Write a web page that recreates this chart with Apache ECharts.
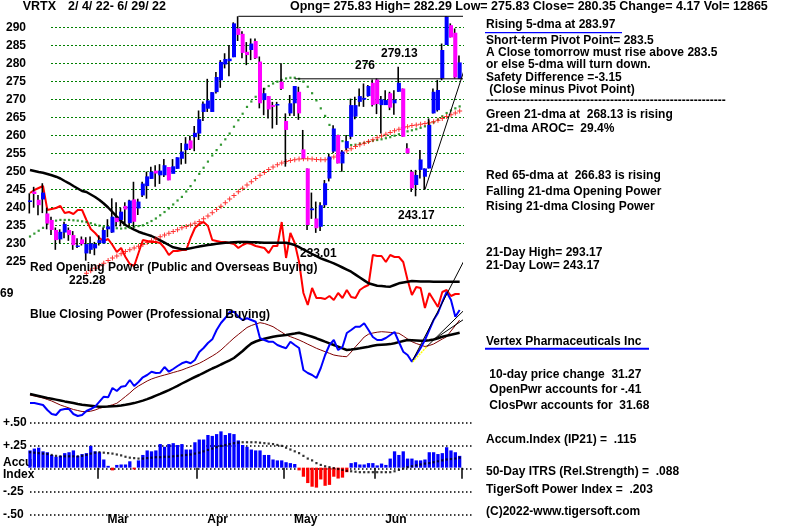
<!DOCTYPE html>
<html><head><meta charset="utf-8">
<script src="https://cdn.jsdelivr.net/npm/echarts@6/dist/echarts.min.js"></script>
<style>html,body{margin:0;padding:0;background:#fff}#c{width:800px;height:526px}</style>
</head><body><div id="c"></div>
<script>
// ---------- DATA ----------
const tradingDays = {
  Feb: [4,7,8,9,10,11,14,15,16,17,18,22,23,24,25,28],
  Mar: [1,2,3,4,7,8,9,10,11,14,15,16,17,18,21,22,23,24,25,28,29,30,31],
  Apr: [1,4,5,6,7,8,11,12,13,14,18,19,20,21,22,25,26,27,28,29],
  May: [2,3,4,5,6,9,10,11,12,13,16,17,18,19,20,23,24,25,26,27,31],
  Jun: [1,2,3,6,7,8,9,10,13,14,15,16,17,21,22,23,24,27,28,29]
};
const monthLabels = ['Mar','Apr','May','Jun'];
const categories = [];
Object.keys(tradingDays).forEach(m => tradingDays[m].forEach(d => categories.push(m + ' ' + d)));
const monthStart = monthLabels.map(m => categories.indexOf(m + ' ' + tradingDays[m][0]));

const open = [241.6,244.5,242.2,242.3,238.4,236.6,233.8,231.2,233.1,233.8,
  232.4,229.2,231.2,227.3,228.3,228.7,230.2,230.1,234.0,233.1,
  237.2,236.6,240.5,235.7,242.3,239.8,243.4,246.0,248.0,250.3,
  249.0,249.0,251.3,249.4,250.8,253.6,256.0,258.7,259.6,260.6,
  266.6,267.5,266.6,272.1,275.4,279.8,280.7,281.8,289.8,288.3,
  283.3,283.8,286.3,280.6,269.9,271.0,268.5,268.4,275.0,264.1,
  266.2,269.0,272.2,256.2,250.9,239.3,237.0,234.7,240.7,248.1,
  255.6,260.2,252.3,256.5,259.7,265.3,269.4,270.0,271.0,274.7,
  275.6,268.5,268.5,271.8,269.0,272.2,273.1,256.5,250.0,246.3,
  250.5,248.6,250.9,266.2,267.1,275.9,285.2,290.7,288.6,275.83];
const close = [242.0,243.8,240.7,244.2,235.6,233.8,231.0,233.3,235.5,232.4,
  229.6,229.5,229.9,229.9,230.1,229.9,231.0,233.8,234.8,237.5,
  236.0,238.9,239.5,242.0,236.1,241.7,246.7,248.7,250.0,249.5,
  250.3,251.8,247.6,251.5,254.0,255.6,257.8,256.4,260.8,264.6,
  268.9,269.8,272.1,276.3,280.5,281.3,281.4,291.2,288.0,283.0,
  282.4,285.6,281.5,269.0,271.8,267.3,268.0,268.8,273.0,261.6,
  269.0,273.8,266.2,253.7,235.2,239.8,234.3,240.7,246.8,254.2,
  262.0,252.3,255.6,258.5,268.5,268.5,271.0,270.5,273.8,268.5,
  268.8,270.1,269.9,267.8,270.0,274.7,259.7,255.1,245.4,249.1,
  253.4,250.9,263.0,272.2,272.7,283.8,293.1,287.3,276.18,280.35];
const high = [244.0,245.8,243.5,246.8,240.0,237.5,234.5,234.0,236.1,234.5,
  233.5,231.5,232.0,231.8,232.0,230.5,232.3,234.5,236.8,242.6,
  241.5,240.0,241.5,242.2,247.2,242.5,247.2,250.0,251.4,251.8,
  252.1,253.5,251.3,253.5,254.0,258.0,259.6,260.0,262.7,267.0,
  269.5,275.8,272.1,277.7,281.0,282.9,285.2,291.5,293.17,289.0,
  286.0,287.0,287.0,282.0,273.3,271.0,269.4,269.4,280.1,266.2,
  271.3,273.8,273.6,261.6,250.9,244.2,241.7,241.5,247.7,255.0,
  262.9,260.2,256.0,260.2,270.3,270.8,273.1,274.5,274.1,275.6,
  275.9,271.0,272.6,272.2,272.6,279.13,273.1,257.9,250.5,250.5,
  256.0,250.9,264.8,273.1,275.5,285.6,293.17,291.2,289.8,282.29];
const low = [238.4,240.0,237.9,238.5,234.0,232.4,228.3,230.1,231.5,230.8,
  228.3,228.8,229.5,225.28,227.2,226.8,229.5,230.1,231.8,233.0,
  234.8,234.8,235.7,234.8,234.5,238.0,243.0,242.5,248.0,245.8,
  246.6,248.5,247.6,250.0,250.8,252.0,252.2,256.0,255.7,258.8,
  264.1,266.6,266.6,271.7,273.3,278.7,276.5,281.8,286.3,281.5,
  279.6,281.0,281.3,267.6,265.7,264.8,262.0,263.0,272.7,251.4,
  265.5,265.5,264.4,253.7,233.8,236.9,233.01,233.5,240.0,247.3,
  255.2,252.3,250.0,256.0,259.0,264.6,268.1,268.0,270.8,268.1,
  266.0,260.6,268.5,267.1,265.8,272.2,259.7,255.1,244.4,243.17,
  248.1,245.0,250.9,266.2,266.7,275.4,285.2,287.3,275.9,275.83];

const ma21 = [232.0,232.8,233.6,234.4,235.5,236.0,236.4,236.6,236.6,236.6,
  236.5,236.4,236.2,236.0,235.7,235.3,235.0,234.7,234.5,234.4,
  234.3,234.2,234.3,234.5,234.7,234.9,235.1,235.7,236.3,237.0,
  237.9,238.8,239.8,240.9,242.0,243.0,244.5,246.0,247.6,249.4,
  251.1,252.8,254.5,256.0,257.5,259.0,260.6,262.5,264.3,266.1,
  268.0,269.5,270.8,272.0,273.0,273.8,274.5,275.0,275.5,275.9,
  276.1,276.1,275.8,275.0,273.6,271.8,269.8,267.6,265.5,263.0,
  261.5,260.0,258.5,257.6,257.4,257.5,257.8,258.0,258.3,258.6,
  258.8,259.0,259.3,259.6,260.0,260.4,260.8,261.2,261.5,261.8,
  262.2,262.6,263.1,263.7,264.5,265.4,266.3,267.0,267.6,268.13];
const ma65 = [null,null,null,null,null,null,null,null,null,null,
  null,null,null,221.8,222.5,223.2,223.9,224.6,225.3,226.0,
  226.6,227.2,227.8,228.3,228.8,229.3,229.8,230.3,230.8,231.3,
  231.9,232.4,232.9,233.4,233.9,234.4,234.8,235.2,235.7,236.2,
  236.9,237.7,238.6,239.5,240.4,241.4,242.4,243.4,244.4,245.4,
  246.3,247.2,248.1,249.0,249.8,250.6,251.3,251.9,252.4,252.8,
  253.1,253.3,253.5,253.6,253.6,253.5,253.4,253.3,253.3,253.6,
  254.1,254.6,255.2,255.8,256.4,257.0,257.5,257.9,258.4,258.9,
  259.4,259.9,260.4,260.9,261.4,261.8,262.2,262.5,262.8,263.0,
  263.2,263.4,263.6,263.9,264.3,264.8,265.3,265.8,266.3,266.83];

const openPower = [127,130,132,134,110,111,112,114,107,108,
  106,110,110,100,91,87,82,79,81,75,
  68,72,63,56,54,67,80,79,78,78,
  77,72,65,69,69,70,70,82,92,96,
  98,94,80,79,78,78,77,76,72,75,
  77,76,74,73,72,67,74,74,98,62,
  87,77,58,27,15,32,22,22,21,24,
  20,27,22,30,23,22,30,33,35,65,
  64,64,58,65,63,63,58,40,25,33,
  32,12,27,20,13,28,30,24,26,26];
const openPowerMA = [150,149,148,147.3,146,144.7,143.3,141.5,139,136.7,
  134,131.5,129,128,125.5,123,120,116.5,112.5,108,
  103.3,99,95,92.5,90.3,88.3,86.8,85.4,84,81.8,
  79.6,77.3,75,72.7,71.7,70.7,71,71.7,72.6,73.5,
  74.3,75,75.6,76.2,76.8,77.3,77.5,77.8,78,78,
  77.9,77.8,77.7,77.5,77.3,77.3,77.3,77.3,77.3,77.3,
  76.2,75,72.8,70.5,68.3,66,63.8,61.7,60,58.3,
  56.7,54.6,52.5,50.4,48.3,45.4,42.5,39.6,36.7,35.5,
  34.3,34,33.6,33.3,35,36.7,37.5,38.3,39,38.8,
  38.6,38.5,38.4,38.3,38.3,38.3,38.3,38.3,38.3,38.3];

const closePower = [27,27,26,25,20,16,15,20,21,21,
  16,14,15,19,21,23.3,28.3,33.3,32.7,42,
  39,43.3,44,50,44,48,52.7,55,58.3,57,
  57.3,63,58.3,61,64,66.7,68.3,66.7,70,78,
  82,87,90.7,100,107,112,118,118.3,113.3,110,
  111.7,110,108.3,91.7,90,88.3,88.3,85,83.3,81.7,
  88.3,85,82,60,57,55,52,62,75,85,
  90,80,83,97,100,103.3,103.3,106.7,100,93,
  90,90,92,95,98,88,78.3,75,68.3,75,
  82,90,100,110,117,128,138,130,113.3,120];
const closePowerMA = [35,34,33,32,30.5,29,27,25,23.5,22,
  20.5,19.5,18.5,18.3,18.8,20,21.7,22.8,24,25.2,
  26.7,30,33.5,37,41,44,46.5,49,51,52.5,
  53.8,55,56.2,57.5,58.7,60,61.7,63.3,65,66.7,
  69,71.5,74,76.7,80,84,88,92,95.5,99,
  102.5,104.5,106,107.3,106.5,105,103.3,100.5,97.8,95,
  93.3,91.7,90,88,85.8,83.8,81.7,80,78.3,76.7,
  75,74.2,73.6,73.3,78,83.3,88,93,95.8,97,
  97.8,98.3,98,97.6,97.2,96.7,94,91,88.3,86.5,
  85,83.5,84.5,86,88.5,91,93.3,99,104.5,110];
const closePowerLongMA = [36,35,34,33,32,31.3,30.4,29.5,28.6,27.8,
  27,26,25.2,24.7,24.2,23.7,23.3,23.3,23.5,23.8,
  24,24.6,25.3,26.1,26.9,28.1,29.4,30.9,32.5,34.3,
  36.1,38,39.8,42,44.2,46.5,48.7,50.9,53,55,
  57.2,59.3,61.5,63.3,65.5,67.6,69.7,72,75.5,79,
  83,86.5,88.5,90,91.2,92.3,93.3,94,94.5,95,
  95.8,96.5,97.3,96,94.6,93.2,91.7,90,88.3,86.7,
  85,83.3,81.6,80,80.5,81.1,81.7,82.5,83.3,84.2,
  85,85.3,85.6,85.9,86.8,87.9,89,90,89.8,89.5,
  89.2,89.3,89.7,90.5,91.8,93.3,94.3,95.3,96.3,97.3];

const accumIndex = [.19,.21,.22,.18,.17,.14,.12,.13,.16,.17,
  .19,.13,.15,.16,.24,.18,.17,.09,.02,-.03,
  .03,.035,.035,.07,-.02,.08,.14,.19,.18,.19,
  .26,.23,.26,.27,.25,.26,.20,.20,.28,.31,
  .31,.36,.35,.37,.40,.36,.38,.37,.30,.25,
  .23,.20,.19,.19,.14,.14,.09,.08,.08,.06,
  .05,.04,-.03,-.10,-.17,-.21,-.22,-.13,-.20,-.19,
  -.10,-.12,-.11,-.05,.05,.06,.035,.035,.05,.05,
  .025,.045,.03,.10,.18,.14,.18,.10,.10,.08,
  .08,.09,.17,.17,.15,.16,.225,.19,.17,.13];
const accumMA = [.17,.165,.16,.155,.15,.14,.13,.125,.125,.125,
  .125,.125,.13,.14,.155,.165,.17,.165,.16,.155,
  .145,.135,.12,.11,.105,.10,.10,.105,.11,.115,
  .115,.12,.12,.125,.13,.135,.14,.145,.155,.165,
  .18,.195,.21,.225,.24,.25,.26,.27,.275,.28,
  .28,.28,.28,.275,.27,.265,.26,.25,.24,.22,
  .20,.18,.16,.13,.10,.08,.05,.03,.015,.005,
  -.005,-.015,-.025,-.035,-.04,-.045,-.05,-.05,-.05,-.05,
  -.05,-.05,-.05,-.05,-.04,-.025,-.01,.005,.015,.025,
  .035,.045,.05,.06,.07,.08,.09,.095,.10,.11];

const priceTickLabels = [225,230,235,240,245,250,255,260,265,270,275,280,285,290];
const accumTickValues = [0.5, 0.25, 0, -0.25, -0.5];
const accumTickLabels = ['+.50', '+.25', '', '-.25', '-.50'];

// trend lines (data space): price panel and power panel
const priceTrendLines = [
  [[48, 293.17], [108.3, 293.17]],
  [[91, 245.0], [104.1, 293.2]],
  [[61, 275.8], [104.4, 275.8]]
];
const powerTrendLines = [
  [[88.2, 70], [102.1, 187]],
  [[91.4, 83.3], [109.5, 160]],
  [[92.9, 90], [103.7, 121.7]]
];
const yellowTrend = [[88.2, 68.3], [91.4, 83.3]];

// ---------- CHART ----------
const FONT = '"Liberation Sans", Arial, sans-serif';
const chart = echarts.init(document.getElementById('c'), null, {renderer: 'canvas'});
const L = 27.83, R = 800 - 461.83;
const idx = categories.map((c, i) => i);

const xVal = (gi) => ({type: 'value', gridIndex: gi, min: -0.5, max: 99.5, show: false});

const series = [];
// Opening power panel
series.push({type: 'line', xAxisIndex: 2, yAxisIndex: 2, data: idx.map(i => [i, openPower[i]]),
  showSymbol: false, lineStyle: {color: '#ff0000', width: 2}, silent: true, z: 2});
series.push({type: 'line', xAxisIndex: 2, yAxisIndex: 2, data: idx.map(i => [i, openPowerMA[i]]),
  showSymbol: false, lineStyle: {color: '#000', width: 2.5}, silent: true, z: 2});
// Closing power panel
series.push({type: 'line', xAxisIndex: 3, yAxisIndex: 3, data: idx.map(i => [i, closePowerMA[i]]),
  showSymbol: false, lineStyle: {color: '#800000', width: 1}, silent: true, z: 2});
series.push({type: 'line', xAxisIndex: 3, yAxisIndex: 3, data: idx.map(i => [i, closePowerLongMA[i]]),
  showSymbol: false, lineStyle: {color: '#000', width: 2.5}, silent: true, z: 2});
series.push({type: 'line', xAxisIndex: 3, yAxisIndex: 3, data: idx.map(i => [i, closePower[i]]),
  showSymbol: false, lineStyle: {color: '#0000ff', width: 2}, silent: true, z: 3});
powerTrendLines.forEach(seg => series.push({type: 'line', xAxisIndex: 3, yAxisIndex: 3, data: seg,
  showSymbol: false, clip: false, lineStyle: {color: '#000', width: 1}, silent: true, z: 4}));
series.push({type: 'line', xAxisIndex: 3, yAxisIndex: 3, data: yellowTrend, showSymbol: false, clip: false,
  lineStyle: {color: '#ffff00', width: 1.5, type: [2, 1]}, silent: true, z: 5});

// Price panel: moving averages
series.push({type: 'scatter', xAxisIndex: 0, yAxisIndex: 0, data: idx.map(i => [i, ma21[i]]),
  symbol: 'rect', symbolSize: 2.2, itemStyle: {color: '#008000'}, silent: true, z: 4});
series.push({type: 'scatter', xAxisIndex: 0, yAxisIndex: 0,
  data: idx.filter(i => ma65[i] != null).map(i => [i, ma65[i]]),
  symbol: 'path://M2,0H3V2H5V3H3V5H2V3H0V2H2Z', symbolSize: 5, itemStyle: {color: '#ff0000'}, silent: true, z: 4});
// candles
series.push({type: 'custom', xAxisIndex: 0, yAxisIndex: 0, silent: true, z: 6,
  data: idx.map(i => [i, open[i], close[i], low[i], high[i]]),
  encode: {x: 0, y: [1, 2, 3, 4]},
  renderItem: function (params, api) {
    const i = api.value(0), o = api.value(1), c = api.value(2), l = api.value(3), h = api.value(4);
    const pO = api.coord([i, o]), pC = api.coord([i, c]), pL = api.coord([i, l]), pH = api.coord([i, h]);
    const x = pO[0];
    const top = Math.min(pO[1], pC[1]);
    const bh = Math.max(Math.abs(pO[1] - pC[1]), 1.5);
    return {type: 'group', children: [
      {type: 'rect', shape: {x: x - 1.5, y: pH[1], width: 1.6, height: pL[1] - pH[1]}, style: {fill: '#000'}},
      {type: 'rect', shape: {x: x - 2, y: top, width: 4, height: bh}, style: {fill: c >= o ? '#0000ff' : '#ff00ff'}}
    ]};
  }
});
priceTrendLines.forEach(seg => series.push({type: 'line', xAxisIndex: 0, yAxisIndex: 0, data: seg,
  showSymbol: false, clip: false, lineStyle: {color: '#000', width: 1}, silent: true, z: 7}));

// Accumulation index
series.push({type: 'bar', xAxisIndex: 4, yAxisIndex: 4, barWidth: 3.3, silent: true, z: 3,
  data: accumIndex.map(v => ({value: v, itemStyle: {color: v >= 0 ? '#0000ff' : '#ff0000'}}))});
series.push({type: 'scatter', xAxisIndex: 4, yAxisIndex: 4, data: accumMA, symbol: 'rect', symbolSize: 2.2,
  itemStyle: {color: '#000'}, silent: true, z: 4});

const T = (x, y, text, extra, size) => Object.assign({type: 'text', x: x, y: y, z: 100, silent: true,
  style: {text: text, fill: '#000', font: 'bold ' + (size || 12) + 'px ' + FONT, verticalAlign: 'middle', align: 'left'}}, extra || {});
const hyphens = '-'.repeat(60);
const graphics = [
  T(22.7, 7, 'VRTX', null, 12.5), T(68, 7, '2/ 4/ 22- 6/ 29/ 22', null, 12.5),
  T(290, 7, 'Opng= 275.83 High= 282.29 Low= 275.83 Close= 280.35 Change= 4.17 Vol= 12865', null, 12.5),
  T(486, 25, 'Rising 5-dma at 283.97'),
  {type: 'rect', z: 100, silent: true, shape: {x: 485, y: 32, width: 137, height: 1.2}, style: {fill: '#0000ff'}},
  T(486, 40.5, 'Short-term Pivot Point= 283.5'),
  T(486, 53, 'A Close tomorrow must rise above 283.5'),
  T(486, 65, 'or else 5-dma will turn down.'),
  T(486, 78, 'Safety Difference =-3.15'),
  T(486, 89.5, ' (Close minus Pivot Point)'),
  T(486, 101, hyphens),
  T(486, 115, 'Green 21-dma at  268.13 is rising'),
  T(486, 129, '21-dma AROC=  29.4%'),
  T(486, 175.8, 'Red 65-dma at  266.83 is rising'),
  T(486, 191.8, 'Falling 21-dma Opening Power'),
  T(486, 206.8, 'Rising 21-dma Closing Power'),
  T(486, 252.5, '21-Day High= 293.17'),
  T(486, 265.2, '21-Day Low= 243.17'),
  T(486, 341.5, 'Vertex Pharmaceuticals Inc'),
  {type: 'rect', z: 100, silent: true, shape: {x: 485, y: 347.7, width: 164, height: 2}, style: {fill: '#0000ff'}},
  T(486, 374.5, ' 10-day price change  31.27'),
  T(486, 389.5, ' OpenPwr accounts for -.41'),
  T(486, 405.5, ' ClosPwr accounts for  31.68'),
  T(486, 439.5, 'Accum.Index (IP21) =  .115'),
  T(486, 472, '50-Day ITRS (Rel.Strength) =  .088'),
  T(486, 489.5, 'TigerSoft Power Index =  .203'),
  T(486, 511.7, '(C)2022-www.tigersoft.com'),
  T(355, 65.8, '276'), T(381, 53.8, '279.13'), T(398, 215.5, '243.17'),
  T(300, 253.5, '233.01'), T(69, 280.8, '225.28'),
  T(30, 268, 'Red Opening Power (Public and Overseas Buying)'),
  T(0, 293.7, '69'),
  T(30, 314.7, 'Blue Closing Power (Professional Buying)'),
  T(3, 462.7, 'Accu', {z: 1}), T(3, 475, 'Index')
];

const option = {
  animation: false,
  backgroundColor: '#fff',
  grid: [
    {left: L, right: R, top: 9.7, height: 270},              // 0 price
    {left: 51, right: 336, top: 9.7, height: 252},           // 1 price gridlines + labels
    {left: L, right: R, top: 150, height: 170},              // 2 opening power
    {left: L, right: R, top: 280, height: 150},              // 3 closing power
    {left: L, right: R, top: 422.3, height: 92.7},           // 4 accum
    {left: 30, right: 328, top: 422.3, height: 92.7}         // 5 accum gridlines
  ],
  xAxis: [
    xVal(0),
    {type: 'value', gridIndex: 1, min: 0, max: 1, show: false},
    xVal(2), xVal(3),
    {type: 'category', gridIndex: 4, data: categories, boundaryGap: true,
      axisLine: {show: false},
      axisTick: {show: true, length: 11, interval: (i) => monthStart.indexOf(i) >= 0, lineStyle: {color: '#000', width: 1.5}},
      axisLabel: {show: true, interval: (i) => monthStart.indexOf(i) >= 0, margin: 1,
        formatter: (v, i) => monthLabels[monthStart.indexOf(i)] || '', align: 'left', padding: [0, 0, 0, 8],
        color: '#000', fontWeight: 'bold', fontSize: 12, fontFamily: FONT}},
    {type: 'value', gridIndex: 5, min: 0, max: 1, show: false}
  ],
  yAxis: [
    {type: 'value', gridIndex: 0, min: 220, max: 295, show: false},
    {type: 'value', gridIndex: 1, min: 225, max: 295, interval: 5,
      axisLine: {show: false}, axisTick: {show: false},
      splitLine: {show: true, showMinLine: false, showMaxLine: false, lineStyle: {color: '#008000', width: 1, type: [2, 2]}},
      axisLabel: {show: true, showMaxLabel: false, margin: 45, align: 'left', color: '#000', fontWeight: 'bold', fontSize: 12, fontFamily: FONT,
        formatter: (v) => priceTickLabels.indexOf(v) >= 0 ? String(v) : ''}},
    {type: 'value', gridIndex: 2, min: 0, max: 170, show: false},
    {type: 'value', gridIndex: 3, min: 0, max: 150, show: false},
    {type: 'value', gridIndex: 4, min: -0.5, max: 0.5, show: false},
    {type: 'value', gridIndex: 5, min: -0.5, max: 0.5, interval: 0.25,
      axisLine: {show: false}, axisTick: {show: false},
      splitLine: {show: true, lineStyle: {color: '#000', width: 1.5, type: [1.5, 2.5]}},
      axisLabel: {show: true, margin: 27, align: 'left', color: '#000', fontWeight: 'bold', fontSize: 12, fontFamily: FONT,
        formatter: (v) => { const k = accumTickValues.findIndex(t => Math.abs(t - v) < 1e-6); return k >= 0 ? accumTickLabels[k] : ''; }}}
  ],
  series: series,
  graphic: graphics
};
chart.setOption(option);
</script>
</body></html>
